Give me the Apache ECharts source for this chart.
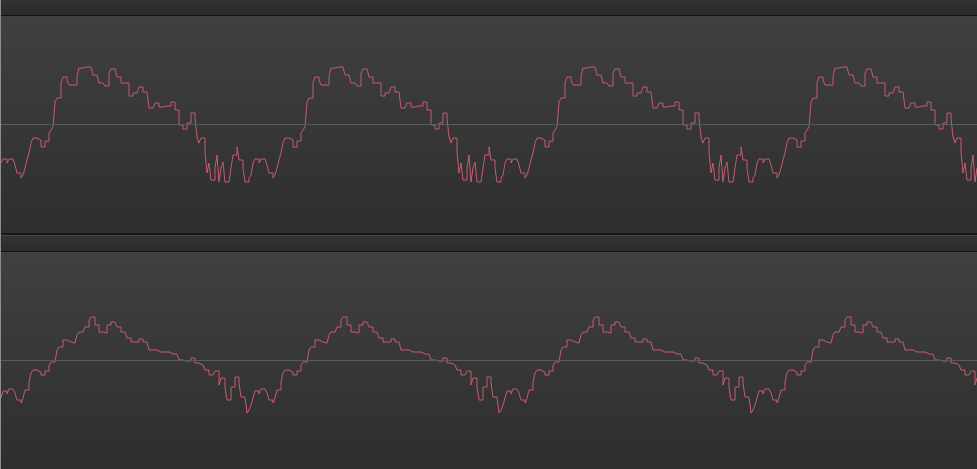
<!DOCTYPE html>
<html><head><meta charset="utf-8">
<script src="https://cdn.jsdelivr.net/npm/echarts@6/dist/echarts.min.js"></script>
<style>html,body{margin:0;padding:0;background:#2e2e2e;overflow:hidden}#c{width:977px;height:469px}</style>
</head><body><div id="c"></div>
<script>
// One period of each trace (values relative to the mid line)
const topCycle = [-39,-35,-35,-39,-35,-35,-35,-41,-49,-49,-54,-51,-44,-36,-29,-19,-14,-14,-16,-16,-23,-23,-17,-17,-9,-6,-3,22,26,26,41,47,47,44,39,39,39,39,47,56,56,56,57,57,57,57,49,49,49,41,41,41,38,38,51,55,55,55,47,47,41,41,41,41,28,28,31,31,31,37,37,32,32,32,16,16,16,21,21,17,17,17,18,18,18,22,22,14,14,-1,-1,-5,-5,1,1,11,11,6,-13,-19,-14,-14,-28,-49,-39,-56,-56,-44,-31,-58,-44,-38,-58,-58,-58,-44,-31,-31,-23,-36,-36,-44,-58,-58,-54,-51];
const bottomCycle = [-38,-31,-31,-34,-29,-29,-29,-33,-40,-40,-43,-38,-30,-30,-22,-13,-10,-10,-12,-12,-15,-15,-11,-11,-5,-2,-2,0,10,13,13,20,20,18,18,17,17,17,25,28,28,28,33,33,40,43,43,35,35,28,28,28,27,35,35,38,38,38,33,33,28,28,28,22,22,18,18,18,18,21,21,18,18,18,10,10,10,10,10,8,8,8,8,8,8,6,6,6,6,0,0,0,-1,-1,-1,2,2,-3,-3,-5,-5,-5,-10,-10,-15,-15,-15,-11,-11,-25,-18,-18,-27,-40,-40,-27,-27,-17,-17,-23,-37,-37,-37,-53,-50,-45];
const cycleCount = 4;
const visiblePoints = 489;
const midValues = [0];

function repeatCycle(c){ let out=[]; for(let k=0;k<cycleCount;k++) out=out.concat(c); return out.slice(0,visiblePoints); }
const topData = repeatCycle(topCycle);
const bottomData = repeatCycle(bottomCycle);
const categories = topData.map((_,i)=>String(i));

const chart = echarts.init(document.getElementById('c'), null, {renderer:'canvas'});
const G = echarts.graphic;
const panelBg = new G.LinearGradient(0,0,0,1,[{offset:0,color:'#404040'},{offset:1,color:'#2e2e2e'}]);
const lineColor = '#c75b6e';
function mk(){ return {silent:true,symbol:'none',animation:false,label:{show:false},lineStyle:{color:'#585b61',width:1,type:'solid'},data:midValues.map(v=>({yAxis:v}))}; }
chart.setOption({
  animation:false,
  backgroundColor:'#2e2e2e',
  grid:[
    {left:1,right:0,top:16,height:217,show:true,backgroundColor:panelBg,borderWidth:0},
    {left:1,right:0,top:252,height:217,show:true,backgroundColor:panelBg,borderWidth:0}
  ],
  xAxis:[
    {type:'category',gridIndex:0,data:categories,boundaryGap:false,show:false},
    {type:'category',gridIndex:1,data:categories,boundaryGap:false,show:false}
  ],
  yAxis:[
    {type:'value',gridIndex:0,min:-109,max:108,show:false,splitLine:{show:false}},
    {type:'value',gridIndex:1,min:-109,max:108,show:false,splitLine:{show:false}}
  ],
  series:[
    {type:'line',xAxisIndex:0,yAxisIndex:0,data:topData,step:'end',symbol:'none',lineStyle:{color:lineColor,width:1},markLine:mk(),z:3},
    {type:'line',xAxisIndex:1,yAxisIndex:1,data:bottomData,step:'end',symbol:'none',lineStyle:{color:lineColor,width:1},markLine:mk(),z:3}
  ],
  graphic:[
    {type:'rect',shape:{x:0,y:0,width:977,height:15},style:{fill:new G.LinearGradient(0,0,0,1,[{offset:0,color:'#323232'},{offset:1,color:'#2a2a2a'}])},silent:true},
    {type:'rect',shape:{x:0,y:15,width:977,height:1},style:{fill:'#141414'},silent:true},
    {type:'rect',shape:{x:0,y:233,width:977,height:2},style:{fill:'#181818'},silent:true},
    {type:'rect',shape:{x:0,y:235,width:977,height:1},style:{fill:'#474747'},silent:true},
    {type:'rect',shape:{x:0,y:236,width:977,height:15},style:{fill:new G.LinearGradient(0,0,0,1,[{offset:0,color:'#333333'},{offset:1,color:'#2b2b2b'}])},silent:true},
    {type:'rect',shape:{x:0,y:251,width:977,height:1},style:{fill:'#141414'},silent:true},
    {type:'rect',shape:{x:0,y:0,width:1,height:469},style:{fill:'#8e8e8e'},silent:true,z:100}
  ]
});
</script>
</body></html>
